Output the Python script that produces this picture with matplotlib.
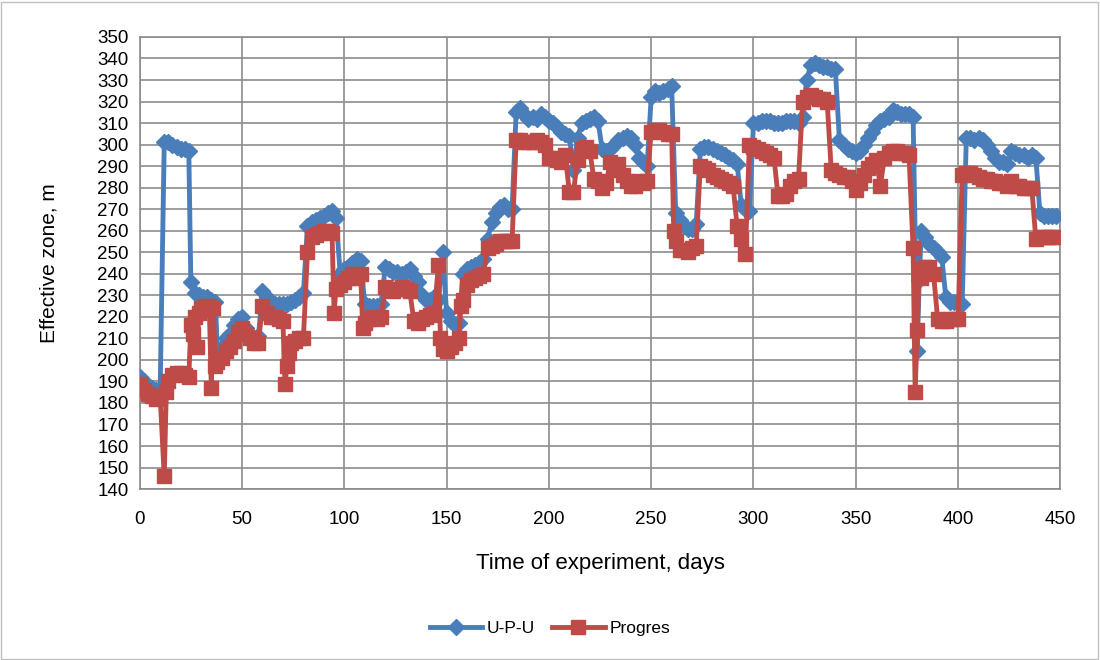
import numpy as np
import matplotlib.pyplot as plt

plt.rcParams['font.family'] = ['Liberation Sans', 'DejaVu Sans']

# U-P-U series (days, effective zone in m)
upu_days = [0, 2, 4, 6, 8, 10, 12, 14, 16, 18, 20, 22, 24, 25, 27, 29, 31, 33, 35, 37,
            38, 40, 42, 44, 46, 48, 50, 52, 54, 56, 58, 60, 62, 64, 66, 68, 70, 72, 74, 76,
            78, 80, 82, 84, 86, 88, 90, 92, 94, 96, 98, 100, 102, 104, 106, 108, 110, 112, 114, 116,
            118, 120, 122, 124, 126, 128, 130, 132, 134, 136, 138, 140, 142, 144, 146, 148, 150, 152, 154, 156,
            158, 160, 162, 164, 166, 168, 170, 172, 174, 176, 178, 180, 182, 184, 186, 188, 190, 192, 194, 196,
            198, 200, 202, 204, 206, 208, 210, 212, 214, 216, 218, 220, 222, 224, 226, 228, 230, 232, 234, 236,
            238, 240, 242, 244, 246, 248, 250, 252, 254, 256, 258, 260, 262, 264, 266, 268, 270, 272, 274, 276,
            278, 280, 282, 284, 286, 288, 290, 292, 294, 296, 298, 300, 302, 304, 306, 308, 310, 312, 314, 316,
            318, 320, 322, 324, 326, 328, 330, 332, 334, 336, 338, 340, 342, 344, 346, 348, 350, 352, 354, 356,
            358, 360, 362, 364, 366, 368, 370, 372, 374, 376, 378, 380, 381, 382, 384, 386, 388, 390, 392, 394,
            396, 398, 400, 402, 404, 406, 408, 410, 412, 414, 416, 418, 420, 422, 424, 426, 428, 430, 432, 434,
            436, 438, 440, 442, 444, 446, 448]
upu_vals = [192, 190, 188, 187, 186, 186, 301, 301, 300, 299, 298, 298, 297, 236, 231, 230, 229, 229, 228, 227,
            203, 206, 210, 212, 216, 219, 220, 215, 212, 210, 211, 232, 229, 226, 226, 226, 226, 226, 227, 228,
            229, 231, 262, 264, 265, 266, 267, 268, 269, 266, 240, 242, 243, 245, 247, 246, 226, 225, 225, 225,
            226, 243, 242, 241, 241, 240, 241, 242, 239, 236, 230, 228, 228, 229, 228, 250, 222, 218, 216, 217,
            240, 242, 243, 244, 245, 247, 256, 264, 268, 271, 272, 270, 270, 315, 317, 314, 312, 313, 312, 314,
            313, 311, 310, 308, 306, 305, 304, 288, 303, 310, 311, 312, 313, 311, 298, 297, 298, 300, 302, 303,
            304, 303, 300, 294, 292, 290, 322, 325, 324, 325, 326, 327, 268, 265, 262, 261, 261, 263, 298, 299,
            299, 298, 297, 296, 295, 294, 293, 291, 272, 270, 269, 310, 310, 311, 311, 311, 310, 310, 310, 311,
            311, 311, 310, 313, 330, 337, 338, 337, 336, 336, 335, 335, 302, 300, 298, 297, 296, 297, 300, 303,
            306, 309, 311, 312, 313, 316, 315, 314, 314, 314, 313, 204, 237, 260, 257, 254, 252, 250, 248, 229,
            227, 227, 227, 226, 303, 303, 302, 303, 302, 300, 297, 294, 292, 292, 291, 297, 296, 295, 295, 294,
            295, 294, 268, 267, 267, 267, 267]

# Progres series
prog_days = [0, 2, 4, 6, 8, 10, 12, 13, 14, 16, 18, 20, 22, 24, 25, 26, 27, 28, 29, 30,
             32, 34, 35, 36, 37, 38, 40, 42, 44, 46, 48, 50, 52, 54, 56, 58, 60, 62, 64, 66,
             68, 70, 71, 72, 73, 74, 76, 78, 80, 82, 84, 86, 88, 90, 92, 94, 95, 96, 98, 100,
             102, 104, 106, 108, 109, 110, 112, 114, 116, 118, 120, 122, 124, 126, 128, 130, 132, 134, 136, 138,
             140, 142, 144, 146, 147, 148, 150, 152, 154, 156, 157, 158, 160, 162, 164, 166, 168, 170, 172, 174,
             176, 178, 180, 182, 184, 186, 188, 190, 192, 194, 196, 198, 200, 202, 204, 206, 208, 210, 212, 214,
             216, 218, 220, 222, 224, 226, 228, 230, 232, 234, 236, 238, 240, 242, 244, 246, 248, 250, 252, 254,
             256, 258, 260, 261, 262, 264, 266, 268, 270, 272, 274, 276, 278, 280, 282, 284, 286, 288, 290, 292,
             294, 296, 298, 300, 302, 304, 306, 308, 310, 312, 314, 316, 318, 320, 322, 324, 326, 328, 330, 332,
             334, 336, 338, 340, 342, 344, 346, 348, 350, 352, 354, 356, 358, 360, 362, 364, 366, 368, 370, 372,
             374, 376, 378, 379, 380, 381, 382, 384, 386, 388, 390, 392, 394, 396, 398, 400, 402, 404, 406, 408,
             410, 412, 414, 416, 418, 420, 422, 424, 426, 428, 430, 432, 434, 436, 438, 440, 442, 444, 446, 448]
prog_vals = [189, 186, 184, 183, 182, 183, 146, 185, 190, 193, 194, 194, 193, 192, 216, 212, 220, 206, 222, 224,
             225, 225, 187, 224, 197, 199, 201, 204, 206, 209, 213, 215, 212, 210, 208, 208, 225, 222, 220, 220,
             219, 218, 189, 197, 203, 208, 209, 210, 210, 250, 257, 258, 259, 260, 260, 259, 222, 233, 235, 236,
             238, 240, 238, 240, 215, 217, 219, 220, 219, 220, 234, 233, 232, 233, 234, 233, 232, 218, 217, 219,
             220, 221, 222, 244, 210, 205, 204, 206, 208, 210, 225, 228, 235, 237, 238, 239, 240, 252, 253, 254,
             255, 255, 255, 255, 302, 302, 301, 301, 301, 302, 301, 300, 294, 294, 293, 292, 295, 278, 278, 293,
             298, 299, 297, 284, 283, 280, 282, 292, 288, 291, 286, 283, 281, 281, 283, 282, 283, 306, 307, 307,
             306, 305, 305, 260, 255, 251, 251, 250, 252, 253, 290, 289, 288, 286, 285, 284, 283, 282, 281, 262,
             256, 249, 300, 299, 298, 297, 296, 295, 294, 276, 276, 277, 281, 283, 284, 320, 322, 323, 322, 321,
             321, 320, 288, 287, 286, 285, 285, 283, 279, 282, 286, 289, 291, 293, 281, 294, 296, 297, 297, 296,
             296, 295, 252, 185, 214, 242, 238, 243, 243, 240, 219, 218, 218, 219, 219, 219, 286, 287, 287, 286,
             285, 284, 284, 283, 283, 282, 282, 281, 283, 281, 281, 280, 280, 280, 256, 257, 257, 257, 257, 257]

fig = plt.figure(figsize=(11, 6.6), dpi=100)
ax = fig.add_axes([0.127, 0.259, 0.837, 0.685])

ax.plot(upu_days, upu_vals, color='#4A7EBB', lw=3.5, marker='D', markersize=8.5,
        label='U-P-U', zorder=3)
ax.plot(prog_days, prog_vals, color='#BE4B48', lw=3.5, marker='s', markersize=10,
        label='Progres', zorder=4)

ax.set_xlim(0, 450)
ax.set_ylim(140, 350)
ax.set_xticks(np.arange(0, 451, 50))
ax.set_yticks(np.arange(140, 351, 10))
ax.grid(True, color='#8c8c8c', lw=1.2)
ax.set_axisbelow(True)
for s in ax.spines.values():
    s.set_color('#8c8c8c')
    s.set_linewidth(1.2)
ax.tick_params(length=0, labelsize=13.5)
ax.tick_params(axis='x', pad=16)
ax.tick_params(axis='y', pad=8)

ax.set_xlabel('Time of experiment, days', fontsize=16, labelpad=18)
ax.set_ylabel('Effective zone, m', fontsize=15, labelpad=28)

fig.legend(loc='center', bbox_to_anchor=(0.5, 0.048), ncol=2, frameon=False,
           fontsize=12.5, handlelength=3, columnspacing=1.0, handletextpad=0.3)

# light frame around the whole picture
fig.patches.append(plt.Rectangle((0.001, 0.002), 0.997, 0.995, transform=fig.transFigure,
                                 fill=False, edgecolor='#bfbfbf', lw=1))

plt.savefig('out.png', dpi=100)
